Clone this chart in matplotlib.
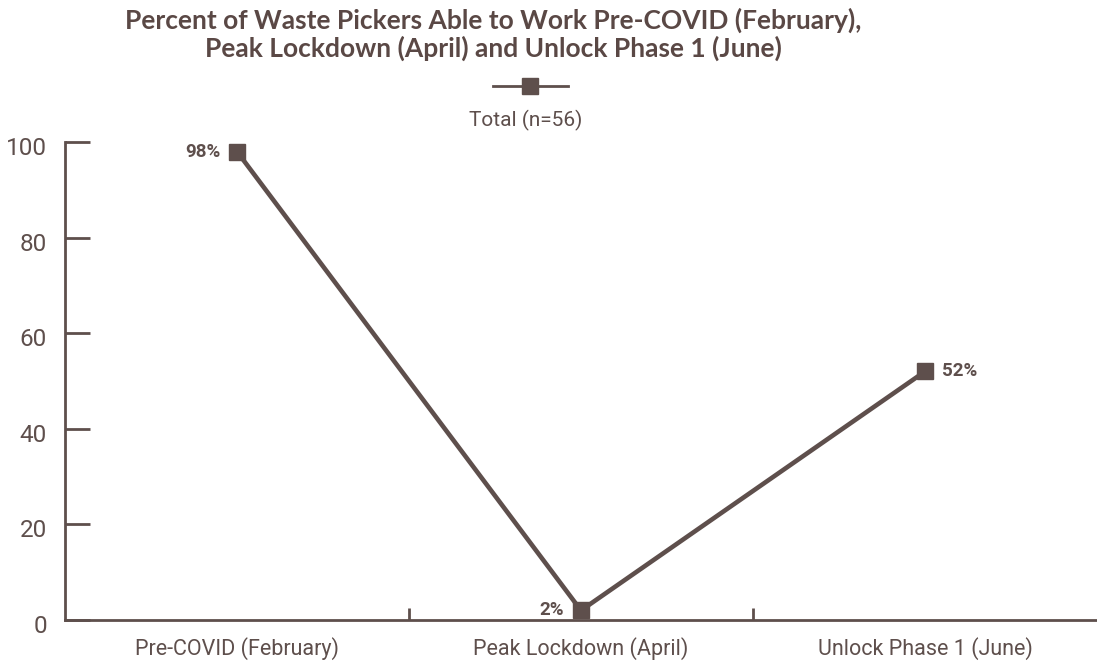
import matplotlib
matplotlib.use("Agg")
import matplotlib.pyplot as plt
from matplotlib.lines import Line2D
from matplotlib.transforms import ScaledTranslation

categories = ["Pre-COVID (February)", "Peak Lockdown (April)", "Unlock Phase 1 (June)"]
values = [98, 2, 52]
value_labels = ["98%", "2%", "52%"]
series_name = "Total (n=56)"
title = "Percent of Waste Pickers Able to Work Pre-COVID (February),\nPeak Lockdown (April) and Unlock Phase 1 (June)"
yticks = [0, 20, 40, 60, 80, 100]

COL = "#5E4F4C"
plt.rcParams['font.family'] = ['Roboto', 'DejaVu Sans']

fig = plt.figure(figsize=(10.97, 6.62), dpi=100)
ax = fig.add_axes([65/1097, 1-620/662, 1-65/1097, (620-142)/662])

x = list(range(len(categories)))
ax.plot(x, values, color=COL, lw=3.3, marker='s', markersize=11, zorder=3, clip_on=False)

for xi, v, lab in zip(x, values, value_labels):
    if xi == 2:
        ax.annotate(lab, (xi, v), xytext=(12, 0), textcoords='offset points',
                    ha='left', va='center', fontsize=13.5, fontweight='bold', color=COL)
    else:
        ax.annotate(lab, (xi, v), xytext=(-12, 0), textcoords='offset points',
                    ha='right', va='center', fontsize=13.5, fontweight='bold', color=COL)

ax.set_xlim(-0.5, 2.5)
ax.set_ylim(0, 100)
ax.set_yticks(yticks)
ax.set_xticks(x)
ax.set_xticklabels(categories)
ax.set_xticks([0.5, 1.5], minor=True)

for s in ['top', 'right']:
    ax.spines[s].set_visible(False)
for s in ['left', 'bottom']:
    ax.spines[s].set_color(COL)
    ax.spines[s].set_linewidth(2)

ax.tick_params(axis='y', direction='in', length=18, width=2, color=COL,
               labelcolor=COL, labelsize=17.5, pad=13)
ax.tick_params(axis='x', which='major', length=0, labelcolor=COL, labelsize=15.5, pad=12)
ax.tick_params(axis='x', which='minor', direction='in', length=9, width=2, color=COL)

off = ScaledTranslation(0, -4/100, fig.dpi_scale_trans)
for lbl in ax.get_yticklabels():
    lbl.set_transform(lbl.get_transform() + off)

# Legend (marker above text)
leg_line = Line2D([493/1097, 568/1097], [1-86/662, 1-86/662], transform=fig.transFigure,
                  color=COL, lw=2)
leg_mark = Line2D([530/1097], [1-86/662], transform=fig.transFigure, color=COL,
                  marker='s', markersize=12, lw=0)
fig.add_artist(leg_line)
fig.add_artist(leg_mark)
fig.text(526/1097, 1-120/662, series_name, ha='center', va='center', fontsize=15, color=COL)

fig.text(493/1097, 1-34/662, title, ha='center', va='center', fontsize=19,
         fontweight='bold', color="#5A4845", family=['Lato', 'DejaVu Sans'], linespacing=1.12)

fig.savefig("out.png", dpi=100)
